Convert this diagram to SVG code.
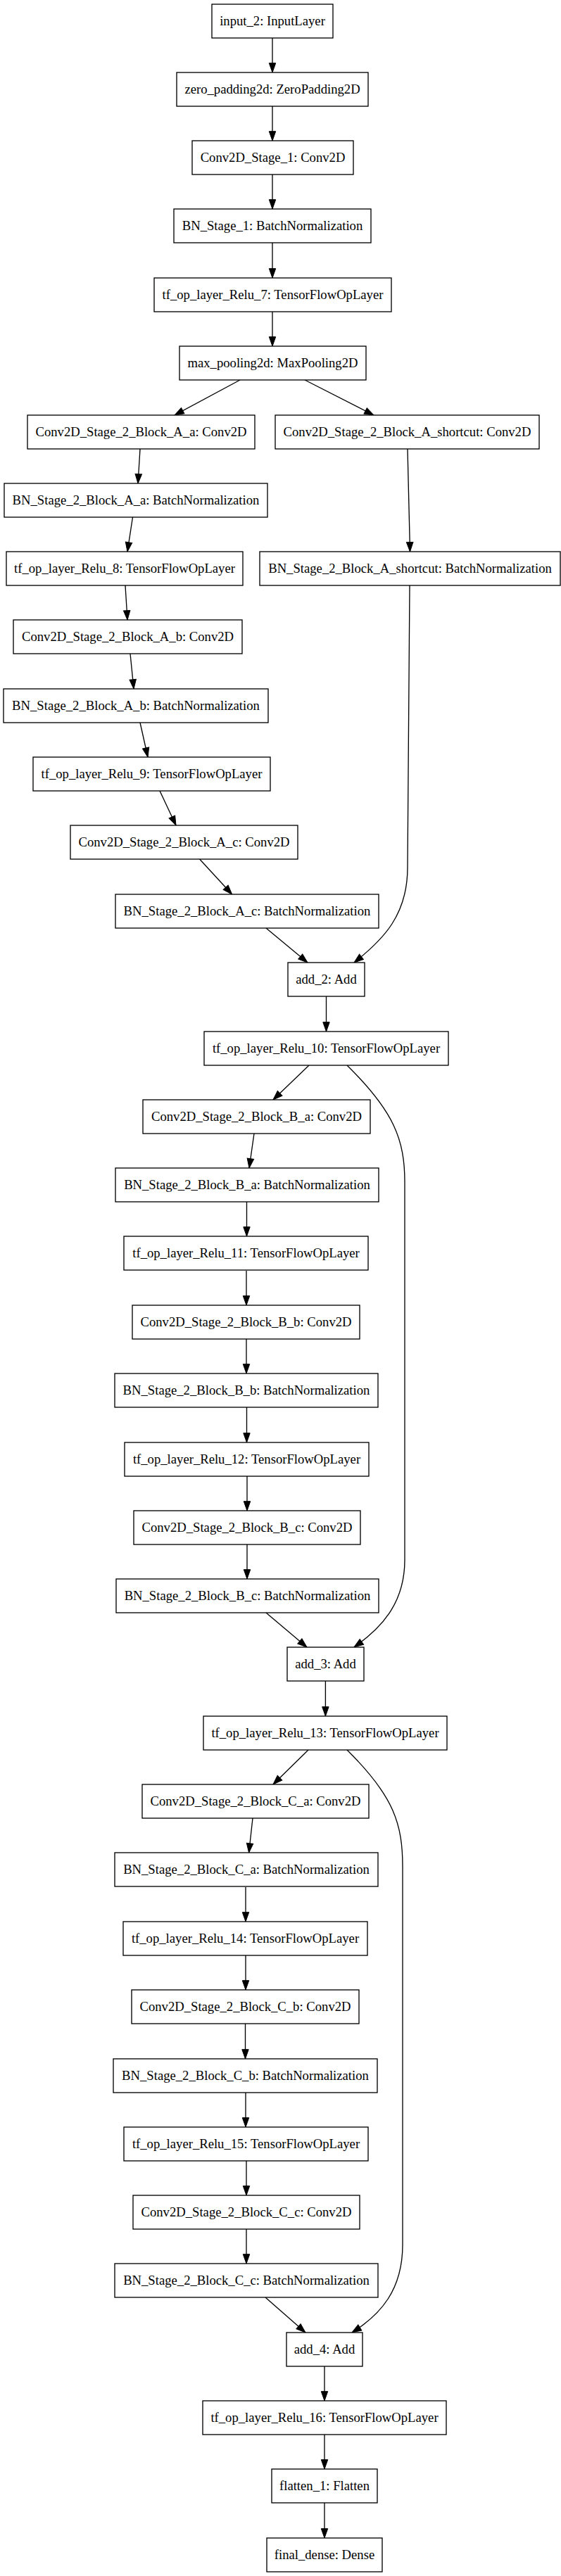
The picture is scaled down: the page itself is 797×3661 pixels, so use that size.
<svg xmlns="http://www.w3.org/2000/svg" width="797" height="3661" viewBox="0 0 797 3661">
<style>
.node rect{fill:#fff;stroke:#000;stroke-width:1.33}
.node text{font-family:"Liberation Serif","Times New Roman",serif;font-size:18.67px;text-anchor:middle;fill:#000}
#edges path{fill:none;stroke:#000;stroke-width:1.33;marker-end:url(#arr)}
</style>
<defs>
<marker id="arr" markerUnits="userSpaceOnUse" markerWidth="16" markerHeight="12" refX="13.3" refY="4.7" orient="auto" overflow="visible">
<path d="M0,0 L13.3,4.7 L0,9.4 z" fill="#000" stroke="#000" stroke-width="1"/>
</marker>
</defs>
<rect width="797" height="3661" fill="#fff"/>
<g id="edges">
<path d="M387,54 L387,103"/>
<path d="M387,151 L387,200"/>
<path d="M387,248 L387,297"/>
<path d="M387,345 L387,395"/>
<path d="M387,443 L387,492"/>
<path d="M341,540 L248,590"/>
<path d="M433,540 L531,590"/>
<path d="M199,638 L196,687"/>
<path d="M579,638 L582.5,784"/>
<path d="M188.5,735 L181,784"/>
<path d="M178,832 L181,881"/>
<path d="M185,929 L190,979"/>
<path d="M199,1027 L210,1076"/>
<path d="M227,1124 L250,1173"/>
<path d="M283.6,1221 L329.6,1271"/>
<path d="M378,1319 L437,1368"/>
<path d="M582,832 L579,1233 C579,1300 545,1335 503,1368"/>
<path d="M463.5,1416 L463.5,1466"/>
<path d="M439,1514 L388,1563"/>
<path d="M493,1514 C560,1580 575,1620 575,1680 L575,2217 C575,2280 540,2315 503,2341"/>
<path d="M361,1611 L354,1660"/>
<path d="M350.5,1708 L350.5,1757"/>
<path d="M350,1806 L350,1855"/>
<path d="M350,1903 L350,1952"/>
<path d="M350.5,2000 L350.5,2050"/>
<path d="M351,2098 L351,2147"/>
<path d="M351,2195 L351,2244"/>
<path d="M378,2292 L436,2341"/>
<path d="M462.4,2389 L462.4,2439"/>
<path d="M438,2487 L388,2536"/>
<path d="M493,2487 C560,2553 572,2593 572,2653 L572,3190 C572,3255 540,3290 500,3315"/>
<path d="M359,2584 L353.6,2633"/>
<path d="M349,2682 L349,2731"/>
<path d="M349,2779 L349,2828"/>
<path d="M348.5,2876 L348.5,2926"/>
<path d="M349,2974 L349,3023"/>
<path d="M350,3071 L350,3120"/>
<path d="M350,3168 L350,3217"/>
<path d="M377,3265 L434,3315"/>
<path d="M461,3363 L461,3412"/>
<path d="M461,3460 L461,3509"/>
<path d="M461,3557 L461,3607"/>
</g>
<g id="n0" class="node"><rect x="301" y="6" width="172" height="48"/><text x="387" y="36">input_2: InputLayer</text></g>
<g id="n1" class="node"><rect x="251" y="103" width="272" height="48"/><text x="387" y="133">zero_padding2d: ZeroPadding2D</text></g>
<g id="n2" class="node"><rect x="273" y="200" width="229" height="48"/><text x="387.5" y="230">Conv2D_Stage_1: Conv2D</text></g>
<g id="n3" class="node"><rect x="247" y="297" width="280" height="48"/><text x="387" y="327">BN_Stage_1: BatchNormalization</text></g>
<g id="n4" class="node"><rect x="219" y="395" width="337" height="48"/><text x="387.5" y="425">tf_op_layer_Relu_7: TensorFlowOpLayer</text></g>
<g id="n5" class="node"><rect x="255" y="492" width="265" height="48"/><text x="387.5" y="522">max_pooling2d: MaxPooling2D</text></g>
<g id="n6" class="node"><rect x="39" y="590" width="323" height="48"/><text x="200.5" y="620">Conv2D_Stage_2_Block_A_a: Conv2D</text></g>
<g id="n7" class="node"><rect x="391" y="590" width="375" height="48"/><text x="578.5" y="620">Conv2D_Stage_2_Block_A_shortcut: Conv2D</text></g>
<g id="n8" class="node"><rect x="6" y="687" width="374" height="48"/><text x="193" y="717">BN_Stage_2_Block_A_a: BatchNormalization</text></g>
<g id="n9" class="node"><rect x="9" y="784" width="336" height="48"/><text x="177" y="814">tf_op_layer_Relu_8: TensorFlowOpLayer</text></g>
<g id="n10" class="node"><rect x="369" y="784" width="427" height="48"/><text x="582.5" y="814">BN_Stage_2_Block_A_shortcut: BatchNormalization</text></g>
<g id="n11" class="node"><rect x="19" y="881" width="325" height="48"/><text x="181.5" y="911">Conv2D_Stage_2_Block_A_b: Conv2D</text></g>
<g id="n12" class="node"><rect x="5" y="979" width="376" height="48"/><text x="193" y="1009">BN_Stage_2_Block_A_b: BatchNormalization</text></g>
<g id="n13" class="node"><rect x="47" y="1076" width="337" height="48"/><text x="215.5" y="1106">tf_op_layer_Relu_9: TensorFlowOpLayer</text></g>
<g id="n14" class="node"><rect x="100" y="1173" width="323" height="48"/><text x="261.5" y="1203">Conv2D_Stage_2_Block_A_c: Conv2D</text></g>
<g id="n15" class="node"><rect x="164" y="1271" width="374" height="48"/><text x="351" y="1301">BN_Stage_2_Block_A_c: BatchNormalization</text></g>
<g id="n16" class="node"><rect x="409" y="1368" width="109" height="48"/><text x="463.5" y="1398">add_2: Add</text></g>
<g id="n17" class="node"><rect x="290" y="1466" width="347" height="48"/><text x="463.5" y="1496">tf_op_layer_Relu_10: TensorFlowOpLayer</text></g>
<g id="n18" class="node"><rect x="203" y="1563" width="323" height="48"/><text x="364.5" y="1593">Conv2D_Stage_2_Block_B_a: Conv2D</text></g>
<g id="n19" class="node"><rect x="164" y="1660" width="374" height="48"/><text x="351" y="1690">BN_Stage_2_Block_B_a: BatchNormalization</text></g>
<g id="n20" class="node"><rect x="176" y="1757" width="347" height="48"/><text x="349.5" y="1787">tf_op_layer_Relu_11: TensorFlowOpLayer</text></g>
<g id="n21" class="node"><rect x="188" y="1855" width="323" height="48"/><text x="349.5" y="1885">Conv2D_Stage_2_Block_B_b: Conv2D</text></g>
<g id="n22" class="node"><rect x="163" y="1952" width="374" height="48"/><text x="350" y="1982">BN_Stage_2_Block_B_b: BatchNormalization</text></g>
<g id="n23" class="node"><rect x="177" y="2050" width="347" height="48"/><text x="350.5" y="2080">tf_op_layer_Relu_12: TensorFlowOpLayer</text></g>
<g id="n24" class="node"><rect x="190" y="2147" width="322" height="48"/><text x="351" y="2177">Conv2D_Stage_2_Block_B_c: Conv2D</text></g>
<g id="n25" class="node"><rect x="165" y="2244" width="373" height="48"/><text x="351.5" y="2274">BN_Stage_2_Block_B_c: BatchNormalization</text></g>
<g id="n26" class="node"><rect x="408" y="2341" width="109" height="48"/><text x="462.5" y="2371">add_3: Add</text></g>
<g id="n27" class="node"><rect x="289" y="2439" width="346" height="48"/><text x="462" y="2469">tf_op_layer_Relu_13: TensorFlowOpLayer</text></g>
<g id="n28" class="node"><rect x="202" y="2536" width="322" height="48"/><text x="363" y="2566">Conv2D_Stage_2_Block_C_a: Conv2D</text></g>
<g id="n29" class="node"><rect x="163" y="2633" width="374" height="48"/><text x="350" y="2663">BN_Stage_2_Block_C_a: BatchNormalization</text></g>
<g id="n30" class="node"><rect x="175" y="2731" width="347" height="48"/><text x="348.5" y="2761">tf_op_layer_Relu_14: TensorFlowOpLayer</text></g>
<g id="n31" class="node"><rect x="187" y="2828" width="323" height="48"/><text x="348.5" y="2858">Conv2D_Stage_2_Block_C_b: Conv2D</text></g>
<g id="n32" class="node"><rect x="161" y="2926" width="375" height="48"/><text x="348.5" y="2956">BN_Stage_2_Block_C_b: BatchNormalization</text></g>
<g id="n33" class="node"><rect x="176" y="3023" width="347" height="48"/><text x="349.5" y="3053">tf_op_layer_Relu_15: TensorFlowOpLayer</text></g>
<g id="n34" class="node"><rect x="189" y="3120" width="322" height="48"/><text x="350" y="3150">Conv2D_Stage_2_Block_C_c: Conv2D</text></g>
<g id="n35" class="node"><rect x="163" y="3217" width="374" height="48"/><text x="350" y="3247">BN_Stage_2_Block_C_c: BatchNormalization</text></g>
<g id="n36" class="node"><rect x="407" y="3315" width="108" height="48"/><text x="461" y="3345">add_4: Add</text></g>
<g id="n37" class="node"><rect x="288" y="3412" width="346" height="48"/><text x="461" y="3442">tf_op_layer_Relu_16: TensorFlowOpLayer</text></g>
<g id="n38" class="node"><rect x="386" y="3509" width="150" height="48"/><text x="461" y="3539">flatten_1: Flatten</text></g>
<g id="n39" class="node"><rect x="379" y="3607" width="164" height="48"/><text x="461" y="3637">final_dense: Dense</text></g>
</svg>
